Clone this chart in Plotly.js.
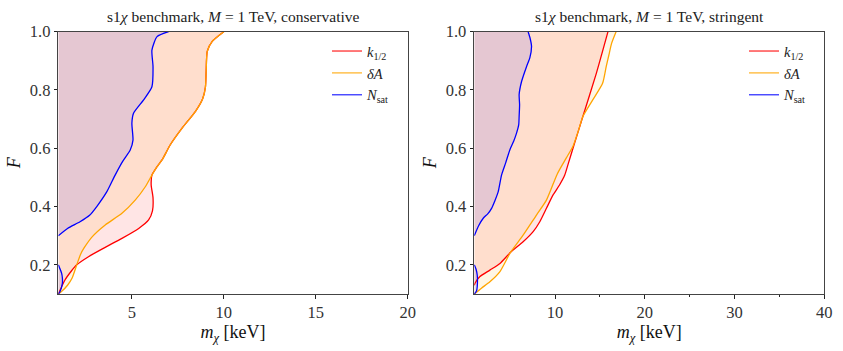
<!DOCTYPE html>
<html>
<head>
<meta charset="utf-8">
<script src="https://cdn.plot.ly/plotly-3.0.1.min.js"></script>
<style>html,body{margin:0;padding:0;background:#fff;}#chart{width:843px;height:351px;}</style>
</head>
<body>
<div id="chart"></div>
<script>
// ---------- data ----------
// Left panel: conservative, M = 1 TeV
var consK_x = [1.0, 1.36, 1.7, 2.0, 2.64, 3.55, 4.46, 5.37, 5.91, 6.12, 6.15, 6.05, 6.09, 6.35, 6.64, 7.09, 7.73, 8.46, 8.85, 9.0, 9.04, 9.1, 9.37, 10.0];
var consK_y = [0.1, 0.148, 0.178, 0.2, 0.228, 0.26, 0.291, 0.325, 0.354, 0.385, 0.43, 0.474, 0.508, 0.535, 0.56, 0.612, 0.669, 0.727, 0.77, 0.81, 0.864, 0.933, 0.967, 1.0];
var consA_x = [1.0, 1.2, 1.5, 1.75, 2.0, 2.2, 2.4, 2.85, 3.55, 4.46, 5.18, 5.73, 6.09, 6.35, 6.64, 7.09, 7.73, 8.46, 8.85, 9.0, 9.04, 9.1, 9.37, 10.0];
var consA_y = [0.1, 0.11, 0.13, 0.155, 0.2, 0.235, 0.258, 0.297, 0.337, 0.377, 0.422, 0.468, 0.508, 0.535, 0.56, 0.612, 0.669, 0.727, 0.77, 0.81, 0.864, 0.933, 0.967, 1.0];
var consN_x = [1.0, 1.5, 2.18, 2.7, 3.09, 3.64, 4.09, 4.5, 4.91, 5.06, 5.0, 5.09, 5.64, 6.09, 6.15, 6.09, 6.37, 7.0];
var consN_y = [0.3, 0.325, 0.348, 0.37, 0.4, 0.451, 0.508, 0.555, 0.594, 0.628, 0.686, 0.72, 0.766, 0.811, 0.88, 0.937, 0.983, 1.0];
var consNlow_x = [1.0, 1.09, 1.22, 1.22, 1.18, 1.0];
var consNlow_y = [0.1, 0.108, 0.137, 0.155, 0.171, 0.2];

// Right panel: stringent, M = 1 TeV
var strK_x = [1.0, 1.08, 1.63, 2.74, 3.86, 5.04, 6.44, 7.56, 8.3, 9.04, 9.78, 10.5, 11.08, 11.5, 12.0, 13.1, 14.6, 15.9];
var strK_y = [0.13, 0.137, 0.16, 0.182, 0.205, 0.243, 0.279, 0.314, 0.348, 0.394, 0.44, 0.474, 0.508, 0.55, 0.6, 0.709, 0.857, 1.0];
var strA_x = [1.0, 1.8, 2.74, 3.86, 5.04, 6.44, 7.93, 9.04, 10.25, 11.26, 12.0, 12.6, 13.1, 14.2, 15.3, 15.7, 16.0, 16.3, 16.8];
var strA_y = [0.1, 0.12, 0.142, 0.177, 0.243, 0.302, 0.371, 0.422, 0.512, 0.567, 0.607, 0.66, 0.709, 0.766, 0.823, 0.88, 0.92, 0.96, 1.0];
var strN_x = [1.0, 1.5, 2.0, 2.5, 2.93, 3.3, 3.67, 4.04, 4.5, 4.97, 5.4, 5.71, 5.95, 6.0, 6.05, 6.0, 6.27, 6.82, 7.19, 7.38, 7.2, 7.0];
var strN_y = [0.3, 0.335, 0.36, 0.375, 0.394, 0.42, 0.451, 0.508, 0.55, 0.595, 0.625, 0.652, 0.68, 0.709, 0.75, 0.784, 0.829, 0.88, 0.91, 0.95, 0.98, 1.0];
var strNlow_x = [1.0, 1.25, 1.33, 1.33, 1.2, 1.0];
var strNlow_y = [0.1, 0.11, 0.125, 0.165, 0.185, 0.2];

// axes / labels
var leftXRange = [1, 20];
var rightXRange = [1, 40];
var yRange = [0.1, 1.0];
var leftXTicks = [5, 10, 15, 20];
var rightXTicks = [10, 20, 30, 40];
var rightXMinor = [5, 15, 25, 35];
var yTicks = [0.2, 0.4, 0.6, 0.8, 1.0];
var yTickText = ['0.2', '0.4', '0.6', '0.8', '1.0'];
var seriesNames = ['<i>k</i><sub>1/2</sub>', '<i>δA</i>', '<i>N</i><sub>sat</sub>'];
var titles = ['s1<i>χ</i> benchmark, <i>M</i> = 1 TeV, conservative', 's1<i>χ</i> benchmark, <i>M</i> = 1 TeV, stringent'];

// ---------- drawing ----------
var SERIF = 'Liberation Serif, DejaVu Serif, serif';
var lineCols = ['#ff0000', '#ffa500', '#0000ff'];
var legCols = ['rgba(255,0,0,0.7)', 'rgba(255,165,0,0.7)', 'rgba(0,0,255,0.7)'];
var fillCols = ['rgba(255,0,0,0.1)', 'rgba(255,165,0,0.1)', 'rgba(0,0,255,0.1)'];

function region(xs, ys, xmin, col, xa, ya) {
  var px = xs.slice(), py = ys.slice();
  px.push(xmin); py.push(ys[ys.length - 1]);
  px.push(xmin); py.push(ys[0]);
  return {x: px, y: py, xaxis: xa, yaxis: ya, type: 'scatter', mode: 'none', fill: 'toself',
          fillcolor: col, showlegend: false, hoverinfo: 'skip'};
}
function curve(xs, ys, col, xa, ya) {
  return {x: xs, y: ys, xaxis: xa, yaxis: ya, type: 'scatter', mode: 'lines',
          line: {color: col, width: 1.3, shape: 'spline', smoothing: 0.6}, showlegend: false, hoverinfo: 'skip'};
}
function legItem(i, xa, ya, leg) {
  return {x: [null], y: [null], xaxis: xa, yaxis: ya, type: 'scatter', mode: 'lines', name: seriesNames[i],
          line: {color: legCols[i], width: 1.5}, legend: leg};
}

var panels = [
  {xa: 'x', ya: 'y', xr: leftXRange, leg: 'legend',
   K: [consK_x, consK_y], A: [consA_x, consA_y], N: [consN_x, consN_y], Nl: [consNlow_x, consNlow_y]},
  {xa: 'x2', ya: 'y2', xr: rightXRange, leg: 'legend2',
   K: [strK_x, strK_y], A: [strA_x, strA_y], N: [strN_x, strN_y], Nl: [strNlow_x, strNlow_y]}
];

var data = [];
panels.forEach(function (p) {
  var xmin = p.xr[0];
  data.push(region(p.K[0], p.K[1], xmin, fillCols[0], p.xa, p.ya));
  data.push(region(p.A[0], p.A[1], xmin, fillCols[1], p.xa, p.ya));
  data.push(region(p.N[0], p.N[1], xmin, fillCols[2], p.xa, p.ya));
  data.push(region(p.Nl[0], p.Nl[1], xmin, fillCols[2], p.xa, p.ya));
  data.push(curve(p.K[0], p.K[1], lineCols[0], p.xa, p.ya));
  data.push(curve(p.A[0], p.A[1], lineCols[1], p.xa, p.ya));
  data.push(curve(p.N[0], p.N[1], lineCols[2], p.xa, p.ya));
  data.push(curve(p.Nl[0], p.Nl[1], lineCols[2], p.xa, p.ya));
  for (var i = 0; i < 3; i++) data.push(legItem(i, p.xa, p.ya, p.leg));
});

var tickFont = {family: SERIF, size: 16.5, color: '#333'};
var axTitleFont = {family: SERIF, size: 18, color: '#111'};
function xAxis(dom, rng, tv, minorVals) {
  var a = {domain: dom, range: rng, tickvals: tv, ticks: 'outside', ticklen: 3.5, tickwidth: 1, tickcolor: '#222',
           showline: true, linecolor: '#444', linewidth: 1.1, mirror: true, showgrid: false, zeroline: false,
           tickfont: tickFont, title: {text: '<i>m</i><sub><i>χ</i></sub> [keV]', font: axTitleFont, standoff: 2}};
  if (minorVals) a.minor = {tickvals: minorVals, ticks: 'outside', ticklen: 2, tickcolor: '#222', showgrid: false};
  return a;
}
function yAxis(anchor) {
  return {domain: [0.1624, 0.9097], range: yRange, tickvals: yTicks, ticktext: yTickText, anchor: anchor,
          ticks: 'outside', ticklen: 3.5, tickwidth: 1, tickcolor: '#222',
          showline: true, linecolor: '#444', linewidth: 1.1, mirror: true, showgrid: false, zeroline: false,
          tickfont: tickFont, title: {text: '<i>F</i>', font: axTitleFont, standoff: 4}};
}
var legBase = {bgcolor: 'rgba(0,0,0,0)', borderwidth: 0, font: {family: SERIF, size: 14.5, color: '#222'},
               yanchor: 'top', xanchor: 'left', tracegroupgap: 0, itemwidth: 30};

var layout = {
  width: 843, height: 351, margin: {l: 0, r: 0, t: 0, b: 0},
  paper_bgcolor: '#fff', plot_bgcolor: '#fff', showlegend: true,
  xaxis: xAxis([0.0692, 0.4836], leftXRange, leftXTicks, null),
  yaxis: yAxis('x'),
  xaxis2: Object.assign(xAxis([0.5626, 0.9778], rightXRange, rightXTicks, rightXMinor), {anchor: 'y2'}),
  yaxis2: yAxis('x2'),
  legend: Object.assign({}, legBase, {x: 327 / 843, y: 0.9}),
  legend2: Object.assign({}, legBase, {x: 744 / 843, y: 0.9}),
  annotations: [
    {text: titles[0], xref: 'paper', yref: 'paper', x: 233 / 843, y: 1 - 16.5 / 351, xanchor: 'center', yanchor: 'middle',
     showarrow: false, font: {family: SERIF, size: 15.5, color: '#222'}},
    {text: titles[1], xref: 'paper', yref: 'paper', x: 649 / 843, y: 1 - 16.5 / 351, xanchor: 'center', yanchor: 'middle',
     showarrow: false, font: {family: SERIF, size: 15.5, color: '#222'}}
  ]
};
layout.xaxis.anchor = 'y';

Plotly.newPlot('chart', data, layout, {staticPlot: true, displayModeBar: false});
</script>
</body>
</html>
